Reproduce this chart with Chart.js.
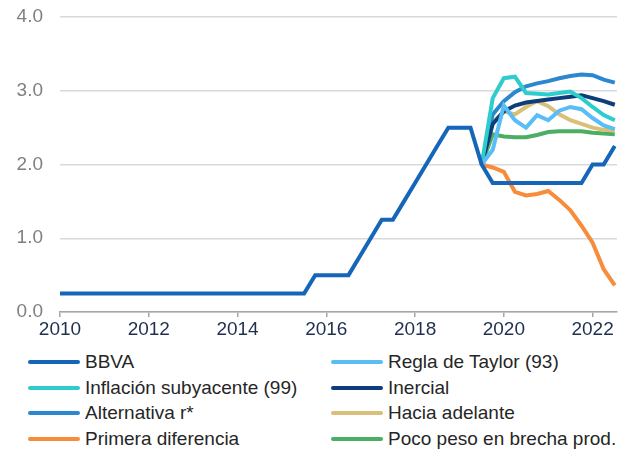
<!DOCTYPE html>
<html>
<head>
<meta charset="utf-8">
<script src="https://cdn.jsdelivr.net/npm/chart.js@4/dist/chart.umd.min.js"></script>
<style>
  body { margin: 0; background: #fff; font-family: "Liberation Sans", Arial, sans-serif; }
  #wrap { position: relative; width: 626px; height: 458px; }
  #chartBox { position: absolute; left: 0; top: 0; width: 626px; height: 346px; }
  .leg { position: absolute; display: flex; align-items: center; font-size: 19px; color: #262626; white-space: nowrap; line-height: 22px; }
  .leg i { display: inline-block; width: 52px; height: 4px; border-radius: 2px; margin-right: 5px; }
</style>
</head>
<body>
<div id="wrap">
  <div id="chartBox"><canvas id="rateChart" width="626" height="346"></canvas></div>
  <div id="legend"></div>
</div>
<script>
// trimestres 2010T1 .. 2022T3
const startYear = 2010;
const quarterCount = 51;
const quarters = [];
for (let i = 0; i < quarterCount; i++) quarters.push(startYear + i / 4);

const yearTicks = [2010, 2012, 2014, 2016, 2018, 2020, 2022];
const rateTicks = [0, 1, 2, 3, 4];

const bbva = [
  0.25, 0.25, 0.25, 0.25,
  0.25, 0.25, 0.25, 0.25,
  0.25, 0.25, 0.25, 0.25,
  0.25, 0.25, 0.25, 0.25,
  0.25, 0.25, 0.25, 0.25,
  0.25, 0.25, 0.25, 0.5,
  0.5, 0.5, 0.5, 0.75,
  1.0, 1.25, 1.25, 1.5,
  1.75, 2.0, 2.25, 2.5,
  2.5, 2.5, 2.0, 1.75,
  1.75, 1.75, 1.75, 1.75,
  1.75, 1.75, 1.75, 1.75,
  2.0, 2.0, 2.25,
];

// escenarios desde 2019T3
const gap = Array(38).fill(null);
const taylor = [...gap, 2.0, 2.2, 2.8, 2.6, 2.5, 2.67, 2.6, 2.73, 2.78, 2.75, 2.63, 2.53, 2.48];
const subyacente = [...gap, 2.0, 2.9, 3.17, 3.19, 2.97, 2.96, 2.95, 2.97, 2.99, 2.9, 2.78, 2.67, 2.6];
const inercial = [...gap, 2.0, 2.55, 2.72, 2.8, 2.84, 2.86, 2.88, 2.9, 2.92, 2.94, 2.9, 2.86, 2.81];
const alternativa = [...gap, 2.0, 2.68, 2.86, 2.98, 3.06, 3.1, 3.13, 3.17, 3.2, 3.22, 3.21, 3.15, 3.11];
const adelante = [...gap, 2.0, 2.57, 2.72, 2.68, 2.78, 2.86, 2.79, 2.68, 2.6, 2.55, 2.5, 2.47, 2.46];
const primeraDif = [...gap, 2.0, 1.96, 1.9, 1.63, 1.58, 1.6, 1.64, 1.52, 1.38, 1.17, 0.94, 0.58, 0.36];
const pocoPeso = [...gap, 2.0, 2.41, 2.38, 2.37, 2.37, 2.4, 2.44, 2.45, 2.45, 2.45, 2.43, 2.42, 2.41];

const series = [
  { label: 'BBVA', data: bbva, color: '#1565b8' },
  { label: 'Regla de Taylor (93)', data: taylor, color: '#5bbdf5' },
  { label: 'Inflación subyacente (99)', data: subyacente, color: '#2ecccc' },
  { label: 'Inercial', data: inercial, color: '#0d3d7a' },
  { label: 'Alternativa r*', data: alternativa, color: '#2b87cf' },
  { label: 'Hacia adelante', data: adelante, color: '#d9bf78' },
  { label: 'Primera diferencia', data: primeraDif, color: '#f78c3a' },
  { label: 'Poco peso en brecha prod.', data: pocoPeso, color: '#4cae63' },
];

const font = { family: '"Liberation Sans", Arial, sans-serif', size: 19 };

const chart = new Chart(document.getElementById('rateChart'), {
  type: 'line',
  data: {
    labels: quarters,
    datasets: series.map((s) => ({
      label: s.label,
      data: s.data,
      borderColor: s.color,
      backgroundColor: s.color,
      borderWidth: 4,
      pointRadius: 0,
      tension: 0,
      spanGaps: false,
    })),
  },
  options: {
    responsive: false,
    animation: false,
    events: [],
    layout: { padding: { top: 17, right: 9, left: 0, bottom: 0 } },
    plugins: {
      legend: { display: false },
      tooltip: { enabled: false },
    },
    scales: {
      x: {
        type: 'linear',
        min: 2010,
        max: 2022.55,
        afterBuildTicks: (axis) => { axis.ticks = yearTicks.map((v) => ({ value: v })); },
        afterFit: (axis) => { axis.height = 34; },
        ticks: {
          color: '#1f2f4f',
          font: font,
          padding: 1,
          maxRotation: 0,
          callback: (v) => String(v),
        },
        grid: { drawOnChartArea: false, drawTicks: true, tickLength: 5, color: '#a6a6a6', lineWidth: 1.5 },
        border: { display: true, color: '#a6a6a6', width: 1.5 },
      },
      y: {
        min: 0,
        max: 4,
        afterBuildTicks: (axis) => { axis.ticks = rateTicks.map((v) => ({ value: v })); },
        afterFit: (axis) => {
          axis.width = 60;
          axis.paddingTop = 0;
          axis.paddingBottom = 0;
        },
        ticks: {
          color: '#808080',
          font: font,
          padding: 17,
          callback: (v) => v.toFixed(1),
        },
        grid: { color: '#d9d9d9', lineWidth: 1.5, drawTicks: false },
        border: { display: false },
      },
    },
  },
});

// leyenda en dos columnas
const legendBox = document.getElementById('legend');
const colX = [28, 331];
const rowY = [362, 388, 413, 439];
chart.data.datasets.forEach((ds, i) => {
  const item = document.createElement('div');
  item.className = 'leg';
  item.style.left = colX[i % 2] + 'px';
  item.style.top = (rowY[Math.floor(i / 2)] - 11) + 'px';
  item.innerHTML = '<i style="background:' + ds.borderColor + '"></i><span>' + ds.label + '</span>';
  legendBox.appendChild(item);
});
</script>
</body>
</html>
